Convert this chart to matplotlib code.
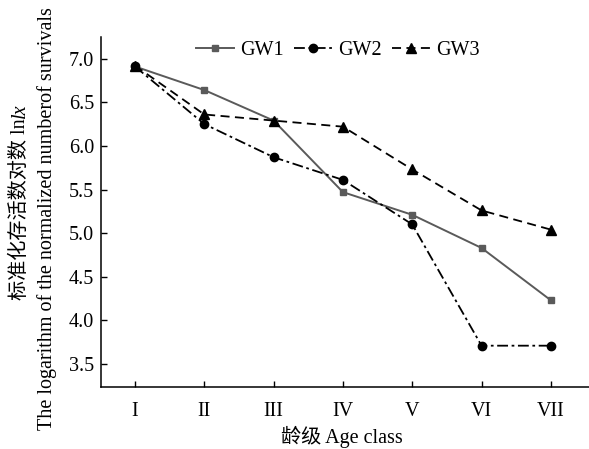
import numpy as np
import matplotlib.pyplot as plt

plt.rcParams['font.family'] = ['Liberation Serif', 'Noto Sans CJK SC']

age_classes = ['I', 'II', 'III', 'IV', 'V', 'VI', 'VII']
gw1 = [6.91, 6.64, 6.29, 5.47, 5.21, 4.83, 4.23]
gw2 = [6.91, 6.25, 5.87, 5.61, 5.10, 3.71, 3.71]
gw3 = [6.92, 6.36, 6.29, 6.22, 5.73, 5.26, 5.04]

fs = 14.5
fig = plt.figure(figsize=(5.89, 4.49), dpi=100)
ax = fig.add_axes([0.1715, 0.138, 0.8285, 0.78])

x = np.arange(len(age_classes))
ax.plot(x, gw1, color='#5a5a5a', lw=1.4, marker='s', ms=5, label='GW1')
ax.plot(x, gw2, color='black', lw=1.3, ls=(0, (6, 2, 1.5, 2)), marker='o', ms=6, label='GW2')
ax.plot(x, gw3, color='black', lw=1.3, ls=(0, (5, 3)), marker='^', ms=7, label='GW3')

ax.set_xlim(-0.49, 6.55)
ax.set_ylim(3.236, 7.25)
ax.set_xticks(x)
ax.set_xticklabels(age_classes)
ax.set_yticks(np.arange(3.5, 7.01, 0.5))
ax.set_yticklabels(['%.1f' % v for v in np.arange(3.5, 7.01, 0.5)])
ax.tick_params(direction='in', labelsize=fs, length=4, width=1)
ax.tick_params(axis='x', pad=11)
ax.tick_params(axis='y', pad=5)
for s in ['top', 'right']:
    ax.spines[s].set_visible(False)
for s in ['left', 'bottom']:
    ax.spines[s].set_linewidth(1.1)

ax.legend(loc='upper center', bbox_to_anchor=(0.485, 1.04), ncol=3, frameon=False,
          fontsize=fs, handlelength=1.9, columnspacing=0.5, handletextpad=0.3)

# first y-label line: CJK + "ln" upright, then "lx" italic above it
x1 = 20 / 589
bottom = 1 - 300 / 449
t_main = fig.text(x1, bottom, '标准化存活数对数 ln', rotation=90, ha='center', va='bottom', fontsize=fs)
fig.canvas.draw()
bb = t_main.get_window_extent().transformed(fig.transFigure.inverted())
fig.text(x1, bb.y1, 'lx', style='italic', rotation=90, ha='center', va='bottom', fontsize=fs)

fig.text(47 / 589, 1 - 7 / 449, 'The logarithm of the normalized numberof survivals', rotation=90,
         ha='center', va='top', fontsize=fs)
fig.text(342 / 589, 1 - 437 / 449, '龄级 Age class', ha='center', va='center', fontsize=fs)

fig.savefig('out.png', dpi=100)
